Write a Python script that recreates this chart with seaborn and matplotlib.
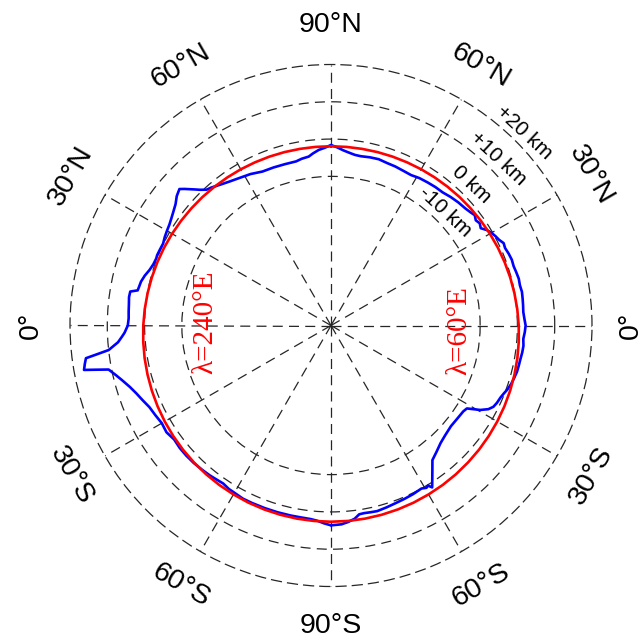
import numpy as np
import pandas as pd
import matplotlib
matplotlib.use("Agg")
import matplotlib.pyplot as plt
import seaborn as sns

# ---------------- data (heights in km vs latitude in degrees) ----------------
# profile along lambda = 60 E (right half of the circle)
east_lat = [90, 88, 86, 84, 82, 80, 77, 74, 71, 68, 65, 62, 59, 56, 53, 50, 47, 44,
            41, 39, 37.5, 36, 34.5, 33, 31.5, 30, 28.5, 27, 25.5, 24, 22, 20, 18, 16,
            14, 12, 10, 8, 6, 4, 2, 0, -2, -4, -6, -8, -10, -12, -14, -16, -18, -20,
            -21.5, -23, -25, -26.6, -28, -29.5, -31.4, -33, -36, -40, -44, -47, -50,
            -53, -55, -56.8, -58, -58.8, -59.5, -61, -64, -67, -70, -73, -76, -78,
            -80, -81.5, -83, -85, -87, -90]
east_h = [-1.6, -2.2, -2.9, -3.4, -3.8, -3.9, -3.7, -3.6, -3.9, -4.0, -4.2, -4.3, -3.9,
          -3.7, -3.5, -3.4, -2.9, -2.5, -2.2, -1.8, -1.4, -2.0, -1.6, -2.1, -1.0, -0.3,
          0.2, 0.6, 1.3, 1.1, 1.4, 1.6, 1.5, 1.7, 1.9, 1.8, 2.0, 1.9, 1.8, 1.7, 1.9,
          2.2, 2.0, 1.7, 1.9, 1.8, 1.6, 1.5, 1.4, 1.1, 0.8, 0.3, -0.2, -0.6, -0.9,
          -1.3, -2.2, -4.0, -7.3, -7.7, -7.9, -8.0, -7.5, -6.9, -5.9, -4.8, -2.6,
          -0.4, 1.2, 0.2, 0.5, 0.0, 0.3, 0.5, 0.7, 1.0, 1.3, 1.2, 1.1, 1.2, 2.2,
          2.9, 3.4, 3.6]

# profile along lambda = 240 E (left half of the circle)
west_lat = [90, 88, 86, 84, 82.5, 80, 78, 74, 70, 66, 62, 58, 55, 52, 49, 47.5, 46, 45,
            43, 42, 40, 38, 36, 34, 32, 30, 28, 26, 24, 22, 21, 19, 17, 15, 13, 11.5,
            10.3, 9.6, 8, 6, 4, 2, 0, -2, -3, -4.5, -6.3, -7, -7.6, -8.8, -10.2,
            -10.6, -11.2, -13, -14.7, -17, -19.2, -21.5, -24.2, -27, -30, -33, -36,
            -39, -42, -45, -48, -51, -53, -55.7, -58, -60, -63, -66, -70, -74, -78,
            -81, -84, -86, -88, -90]
west_h = [-1.6, -2.3, -2.8, -3.6, -4.3, -4.6, -5.0, -5.0, -4.9, -4.8, -4.0, -3.4, -2.8,
          -2.0, -1.0, -0.6, 0.6, 1.6, 3.7, 4.7, 4.0, 2.9, 2.2, 1.6, 1.1, 0.8, 0.5, 0.1,
          0.2, 0.3, 0.2, 0.4, 0.9, 1.7, 2.3, 2.5, 2.7, 4.6, 4.7, 4.5, 4.4, 4.3, 4.5,
          5.4, 6.1, 7.3, 10.0, 13.2, 16.3, 16.8, 17.3, 14.5, 10.8, 9.2, 7.9, 6.4, 5.3,
          4.4, 3.4, 2.9, 2.4, 2.6, 2.0, 2.2, 2.2, 2.1, 1.9, 1.7, 1.5, 1.3, 1.7, 1.8,
          2.1, 2.1, 2.1, 2.1, 2.1, 2.1, 2.2, 2.5, 3.1, 3.6]

# reference figure (red curve), same on both halves
ref_lat = [90, 85, 80, 75, 70, 65, 60, 55, 50, 45, 40, 35, 30, 25, 20, 15, 10, 5, 0,
           -5, -10, -15, -20, -25, -30, -35, -40, -45, -50, -55, -60, -65, -70, -75,
           -80, -85, -90]
ref_h = [-1.93, -1.92, -1.90, -1.85, -1.79, -1.72, -1.62, -1.52, -1.40, -1.26, -1.12,
         -0.96, -0.79, -0.61, -0.43, -0.24, -0.05, 0.15, 0.35, 0.55, 0.75, 0.94, 1.13,
         1.31, 1.49, 1.66, 1.82, 1.96, 2.10, 2.22, 2.32, 2.42, 2.49, 2.55, 2.60, 2.62,
         2.63]

ring_values = [-10, 0, 10, 20]
ring_labels = ["-10 km", "0 km", "+10 km", "+20 km"]
spoke_angles = list(range(0, 360, 30))
lat_label_angles = [0, 30, 60, 90, 120, 150, 180, 210, 240, 270, 300, 330]
lat_label_texts = ["0°", "30°N", "60°N", "90°N", "60°N", "30°N", "0°",
                   "30°S", "60°S", "90°S", "60°S", "30°S"]
meridian_texts = ["λ=60°E", "λ=240°E"]

R_MIN, R_MAX = -50, 20

# ---------------- build tables ----------------
east = pd.DataFrame({"theta": np.radians(east_lat), "h": east_h})
west = pd.DataFrame({"theta": np.radians(180 - np.array(west_lat, dtype=float)), "h": west_h})
ref_e = pd.DataFrame({"theta": np.radians(ref_lat), "h": ref_h})
ref_w = pd.DataFrame({"theta": np.radians(180 - np.array(ref_lat, dtype=float)), "h": ref_h})
ref_all = pd.concat([ref_e, ref_w.iloc[::-1]], ignore_index=True)

# ---------------- plot ----------------
sns.set_theme(style="white")
plt.rcParams["font.family"] = ["Liberation Sans", "DejaVu Sans"]
plt.rcParams["text.color"] = "black"

GRID_KW = dict(color="0.15", linewidth=0.9, linestyle=(0, (8, 5)))

fig = plt.figure(figsize=(6.4, 6.42), dpi=100)
cx, cy, rad = 331, 325.5, 261
ax = fig.add_axes([(cx - rad) / 640, (642 - cy - rad) / 642, 2 * rad / 640, 2 * rad / 642],
                  projection="polar")
ax.set_facecolor("white")
ax.set_ylim(R_MIN, R_MAX)
ax.set_rgrids(ring_values[:-1])
ax.set_thetagrids(spoke_angles)
ax.set_xticklabels([])
ax.set_yticklabels([])
ax.grid(True, **GRID_KW)
# outer ring (+20 km) drawn by the dashed polar spine
sp = ax.spines["polar"]
sp.set_visible(True)
sp.set_color(GRID_KW["color"])
sp.set_linewidth(GRID_KW["linewidth"])
sp.set_linestyle(GRID_KW["linestyle"])

sns.lineplot(data=east, x="theta", y="h", ax=ax, sort=False, estimator=None,
             color="#0000ff", linewidth=1.9)
sns.lineplot(data=west, x="theta", y="h", ax=ax, sort=False, estimator=None,
             color="#0000ff", linewidth=1.9)
sns.lineplot(data=ref_all, x="theta", y="h", ax=ax, sort=False, estimator=None,
             color="#ff0000", linewidth=1.9)
ax.set_ylim(R_MIN, R_MAX)
ax.set_xlabel("")
ax.set_ylabel("")

# latitude labels
for ang, txt in zip(lat_label_angles, lat_label_texts):
    rot = (ang - 90) % 180
    if rot > 90:
        rot -= 180
    ax.text(np.radians(ang), 30.5, txt, ha="center", va="center", rotation=rot,
            rotation_mode="anchor", fontsize=20.5, color="black", clip_on=False)

# ring labels
for val, txt in zip(ring_values, ring_labels):
    ax.text(np.radians(45.0), val + 3.3, txt, ha="center", va="center", rotation=-43,
            rotation_mode="anchor", fontsize=15, color="black", clip_on=False)

# meridian labels
ax.text(np.radians(-2.3), -15.6, meridian_texts[0], ha="center", va="center",
        rotation=90, rotation_mode="anchor", fontsize=21, color="#ff0000",
        family=["Liberation Serif", "DejaVu Serif"])
ax.text(np.radians(178.6), -16.2, meridian_texts[1], ha="center", va="center",
        rotation=90, rotation_mode="anchor", fontsize=21, color="#ff0000",
        family=["Liberation Serif", "DejaVu Serif"])

fig.savefig("out.png", dpi=100, facecolor="white")
